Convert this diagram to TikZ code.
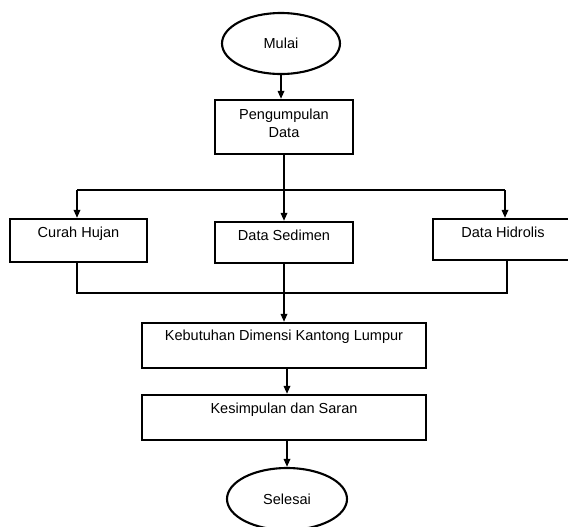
\documentclass[tikz,border=0pt]{standalone}
\usepackage{fontspec}
\setmainfont{Liberation Sans}
\usetikzlibrary{shapes.geometric}
\usetikzlibrary{arrows.meta}

\begin{document}
\begin{tikzpicture}[
    line width=1.8pt,
    font=\fontsize{12.4}{14.6}\selectfont,
    terminal/.style={draw, ellipse, inner sep=0pt},
    proses/.style={draw, rectangle, inner xsep=0pt, inner ysep=0pt, align=center},
    panah/.style={-{Triangle[length=2.4mm, width=1.9mm]}}
]
    \useasboundingbox (0,0) rectangle (17.04,-15.78);
    \clip (0,0) rectangle (17.04,-15.78);

    % start
    \node[terminal, minimum width=3.54cm, minimum height=1.83cm] (mulai) at (8.43,-1.305) {Mulai};
    \node[proses, minimum width=4.14cm, text height=31.6pt, text depth=14.5pt] (kumpul) at (8.52,-3.81) {Pengumpulan\\Data};

    % data
    \node[proses, minimum width=4.11cm, text height=16.2pt, text depth=20.5pt] (curah) at (2.355,-7.215) {Curah Hujan};
    \node[proses, minimum width=4.14cm, text height=15.4pt, text depth=19.6pt] (sedimen) at (8.52,-7.275) {Data Sedimen};
    \node[proses, minimum width=4.2cm, text height=15.4pt, text depth=19.6pt] (hidrolis) at (15.09,-7.185) {Data Hidrolis};

    \node[proses, minimum width=8.52cm, text height=14.5pt, text depth=23.9pt] (kebutuhan) at (8.52,-10.365) {Kebutuhan Dimensi Kantong Lumpur};
    \node[proses, minimum width=8.52cm, text height=16.2pt, text depth=22.2pt] (kesimpulan) at (8.52,-12.525) {Kesimpulan dan Saran};
    \node[terminal, minimum width=3.6cm, minimum height=1.86cm] (selesai) at (8.61,-14.97) {Selesai};

    \coordinate (cabang) at (8.52,-5.7);
    \coordinate (kiri) at (2.31,-5.7);
    \coordinate (kanan) at (15.15,-5.7);
    \coordinate (gabung) at (8.52,-8.79);
    \coordinate (kiri2) at (2.31,-8.79);
    \coordinate (kanan2) at (15.21,-8.79);

    \draw[panah] (mulai.south) -- (mulai.south |- kumpul.north);
    \draw (kumpul.south) -- (cabang);
    \draw (kiri) -- (kanan);
    \draw[panah] (kiri) -- (curah.north -| kiri);
    \draw[panah] (cabang) -- (sedimen.north);
    \draw[panah] (kanan) -- (hidrolis.north -| kanan);

    \draw (curah.south -| kiri2) -- (kiri2) -- (kanan2) -- (hidrolis.south -| kanan2);
    \draw (sedimen.south) -- (gabung);
    \draw[panah] (gabung) -- (kebutuhan.north -| gabung);
    \draw[panah] (kebutuhan.south -| selesai) -- (kesimpulan.north -| selesai);
    \draw[panah] (kesimpulan.south -| selesai) -- (selesai.north);

\end{tikzpicture}
\end{document}
